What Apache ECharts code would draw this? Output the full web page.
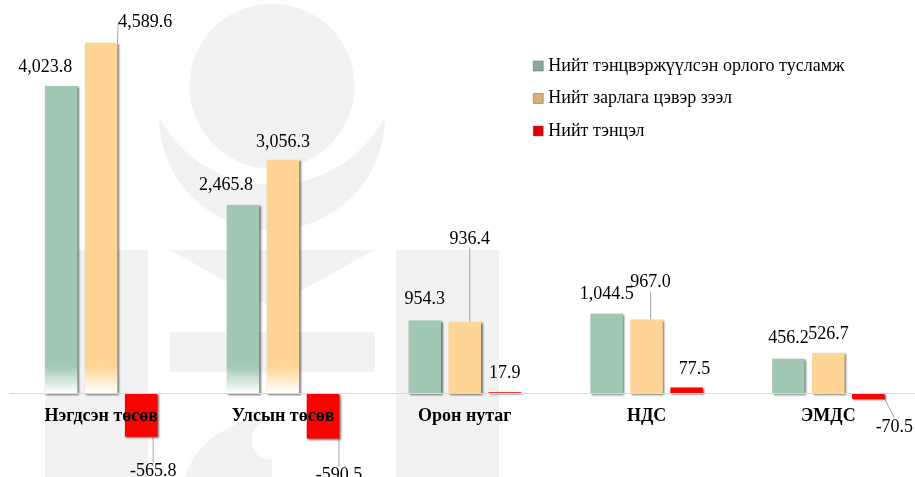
<!DOCTYPE html>
<html>
<head>
<meta charset="utf-8">
<script src="https://cdn.jsdelivr.net/npm/echarts@6/dist/echarts.min.js"></script>
<style>
  html, body { margin: 0; padding: 0; background: #fff; }
  #chart { width: 915px; height: 477px; }
</style>
</head>
<body>
<div id="chart"></div>
<script>
var categories = ["Нэгдсэн төсөв", "Улсын төсөв", "Орон нутаг", "НДС", "ЭМДС"];
var seriesNames = ["Нийт тэнцвэржүүлсэн орлого тусламж", "Нийт зарлага цэвэр зээл", "Нийт тэнцэл"];
var revenue = [4023.8, 2465.8, 954.3, 1044.5, 456.2];
var expense = [4589.6, 3056.3, 936.4, 967.0, 526.7];
var balance = [-565.8, -590.5, 17.9, 77.5, -70.5];

// styling only
var faces = ["#a0c8b5", "#fed594", "#ff0000"];
var legendIcons = ["#86ab9c", "#d6b17a", "#e00000"];
var fadeCats = [true, true, false, false, false];
var fadeUnits = 360;
var shifts = [
  [[-16, -5], [-17, -6], [0, -7], [0, -5], [0, -6]],
  [[44, -7], [0, -4], [5, -69], [4, -23], [0, -5]],
  [[12, 21], [16, 23], [0, -5], [8, -4], [26, 14]]
];
var leaders = [
  [false, false, false, false, false],
  [true, false, true, true, false],
  [true, true, false, false, true]
];
var font = "'Liberation Serif', 'Times New Roman', serif";

function fmt(v) {
  return v.toLocaleString("en-US", { minimumFractionDigits: 1, maximumFractionDigits: 1 });
}

function buildData(values, s) {
  return values.map(function (v, i) {
    var item = {
      value: v,
      label: { position: v < 0 ? "bottom" : "top" },
      labelLine: { show: leaders[s][i] }
    };
    if (fadeCats[i] && s < 2) {
      var stop = 1 - fadeUnits / v;
      item.itemStyle = {
        color: new echarts.graphic.LinearGradient(0, 0, 0, 1, [
          { offset: 0, color: faces[s] },
          { offset: stop, color: faces[s] },
          { offset: 1, color: "#ffffff" }
        ])
      };
    }
    return item;
  });
}

function makeSeries(values, s) {
  return {
    name: seriesNames[s],
    type: "bar",
    barWidth: 32.5,
    barGap: "23%",
    data: buildData(values, s),
    itemStyle: {
      color: faces[s],
      shadowColor: "rgba(0,0,0,0.55)",
      shadowBlur: 2,
      shadowOffsetX: 1.5,
      shadowOffsetY: 1
    },
    label: {
      show: true,
      distance: 5,
      fontSize: 18,
      fontFamily: font,
      color: "#000",
      formatter: function (p) { return fmt(p.value); }
    },
    labelLine: {
      show: false,
      lineStyle: { color: "#a6a6a6", width: 1 }
    },
    labelLayout: function (p) {
      var d = shifts[s][p.dataIndex];
      return { dx: d[0], dy: d[1] };
    }
  };
}

var gray = "#f2f2f2";
var chart = echarts.init(document.getElementById("chart"), null, { renderer: "canvas" });
chart.setOption({
  animation: false,
  backgroundColor: "#fff",
  textStyle: { fontFamily: font },
  graphic: [
    { type: "sector", z: -5, silent: true, shape: { cx: 272, cy: 117, r: 113, r0: 0, startAngle: 0, endAngle: Math.PI }, style: { fill: gray } },
    { type: "circle", z: -4, silent: true, shape: { cx: 272, cy: 57, r: 128 }, style: { fill: "#fff" } },
    { type: "circle", z: -3, silent: true, shape: { cx: 272, cy: 86, r: 82.5 }, style: { fill: gray } },
    { type: "rect", z: -3, silent: true, shape: { x: 45, y: 250, width: 103, height: 230 }, style: { fill: gray } },
    { type: "rect", z: -3, silent: true, shape: { x: 396, y: 250, width: 103, height: 230 }, style: { fill: gray } },
    { type: "polygon", z: -3, silent: true, shape: { points: [[170, 250], [374, 250], [272, 307]] }, style: { fill: gray } },
    { type: "rect", z: -3, silent: true, shape: { x: 170, y: 332, width: 205, height: 40 }, style: { fill: gray } },
    { type: "sector", z: -3, silent: true, shape: { cx: 272, cy: 512, r: 95, r0: 0, startAngle: Math.PI / 2, endAngle: Math.PI * 1.5 }, style: { fill: gray } },
    { type: "circle", z: -2, silent: true, shape: { cx: 272, cy: 440, r: 20 }, style: { fill: "#fff" } }
  ],
  legend: {
    orient: "vertical",
    left: 533,
    top: 57,
    padding: 0,
    itemWidth: 10,
    itemHeight: 10,
    itemGap: 14.5,
    icon: "rect",
    textStyle: { fontSize: 18, fontFamily: font, color: "#000" },
    data: seriesNames.map(function (n, i) {
      return { name: n, itemStyle: { color: legendIcons[i], borderColor: "#666", borderWidth: 0.5 } };
    })
  },
  grid: { left: 10.3, width: 909, top: 11.5, height: 458.4, outerBoundsMode: "none", containLabel: false },
  xAxis: {
    type: "category",
    data: categories,
    z: 5,
    axisTick: { show: false },
    axisLine: { lineStyle: { color: "#d9d9d9", width: 1 } },
    axisLabel: { fontSize: 18, fontWeight: "bold", fontFamily: font, color: "#000", margin: -62.5, interval: 0 }
  },
  yAxis: {
    type: "value",
    min: -1000,
    max: 5000,
    show: false,
    splitLine: { show: false }
  },
  series: [
    makeSeries(revenue, 0),
    makeSeries(expense, 1),
    makeSeries(balance, 2)
  ]
});
</script>
</body>
</html>
